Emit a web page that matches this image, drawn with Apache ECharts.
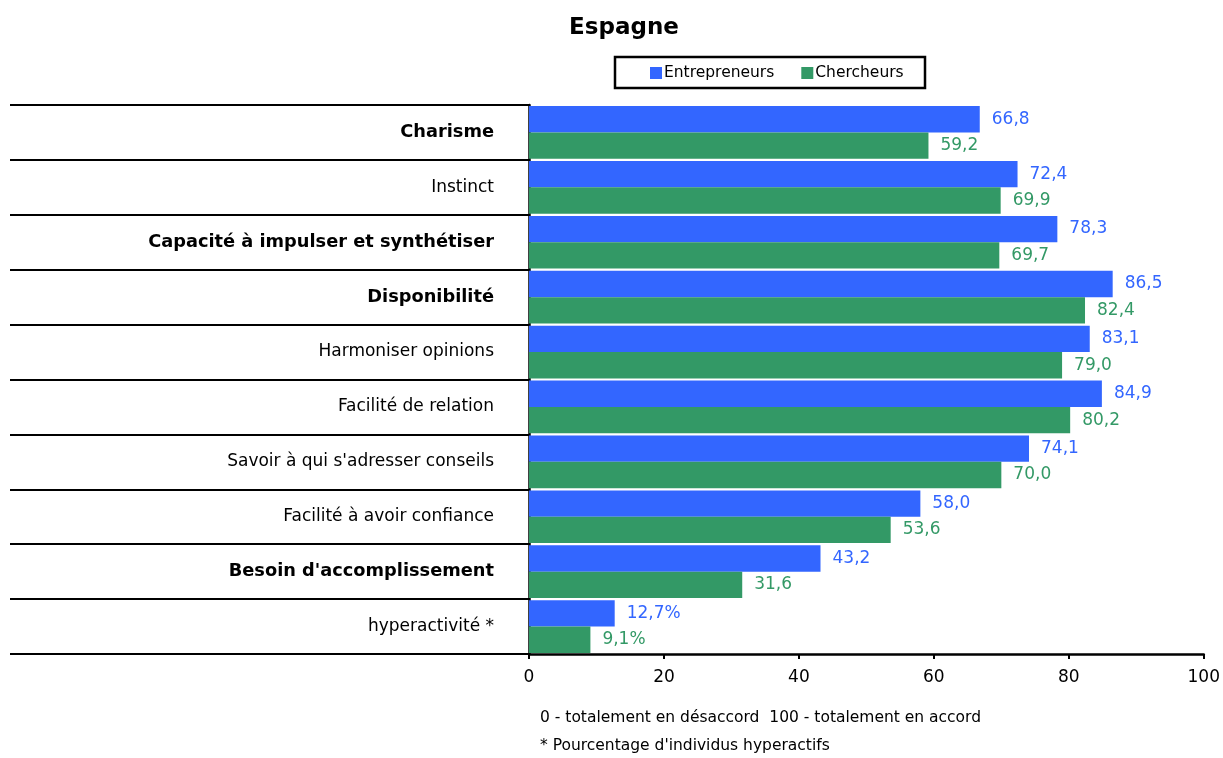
<!DOCTYPE html>
<html><head><meta charset="utf-8">
<script src="https://cdn.jsdelivr.net/npm/echarts@6/dist/echarts.min.js"></script>
<style>html,body{margin:0;padding:0;background:#fff}#c{width:1223px;height:758px}</style>
</head><body><div id="c"></div>
<script>
const categories = ["Charisme","Instinct","Capacité à impulser et synthétiser","Disponibilité","Harmoniser opinions","Facilité de relation","Savoir à qui s'adresser conseils","Facilité à avoir confiance","Besoin d'accomplissement","hyperactivité *"];
const boldCategories = ["Charisme","Capacité à impulser et synthétiser","Disponibilité","Besoin d'accomplissement"];
const percentCategories = ["hyperactivité *"];
const entrepreneurs = [66.8,72.4,78.3,86.5,83.1,84.9,74.1,58.0,43.2,12.7];
const chercheurs = [59.2,69.9,69.7,82.4,79.0,80.2,70.0,53.6,31.6,9.1];
const xTicks = [0,20,40,60,80,100];

const FONT = "DejaVu Sans";
const chart = echarts.init(document.getElementById('c'));
function fmt(p){
  let s = p.value.toFixed(1).replace('.', ',');
  if (percentCategories.includes(categories[p.dataIndex])) s += '%';
  return s;
}
chart.setOption({
  animation:false,
  textStyle:{fontFamily:FONT},
  title:{text:'Espagne',left:619,top:12,textAlign:'center',textStyle:{fontFamily:FONT,fontSize:23,fontWeight:'bold',color:'#000'}},
  legend:{top:60,left:645,itemWidth:12,itemHeight:12,itemGap:27,icon:'rect',
    textStyle:{fontFamily:FONT,fontSize:15.5,color:'#000',padding:[0,0,0,-3]},
    data:['Entrepreneurs','Chercheurs']},
  graphic:[
    {type:'rect',shape:{x:615,y:57,width:310,height:31},style:{fill:null,stroke:'#000',lineWidth:2.5},z:-1},
    {type:'text',left:540,top:710,style:{text:'0 - totalement en désaccord  100 - totalement en accord',font:'15.5px "'+FONT+'"',fill:'#000'}},
    {type:'text',left:540,top:738,style:{text:"* Pourcentage d'individus hyperactifs",font:'15.5px "'+FONT+'"',fill:'#000'}}
  ],
  grid:{left:529,right:18,top:105,bottom:104,containLabel:false},
  xAxis:{type:'value',min:0,max:100,interval:20,
    axisLine:{show:true,lineStyle:{color:'#000',width:2.5}},
    axisTick:{show:true,length:5,lineStyle:{color:'#000',width:2}},
    splitLine:{show:false},
    axisLabel:{fontFamily:FONT,fontSize:17,color:'#000',margin:15,
      formatter:v=>xTicks.includes(v)?String(v):''}},
  yAxis:{type:'category',inverse:true,data:categories,
    axisLine:{show:true,lineStyle:{color:'#000',width:2.5}},
    axisTick:{show:true,length:519,lineStyle:{color:'#000',width:2}},
    axisLabel:{margin:35,fontFamily:FONT,fontSize:17,color:'#000',
      formatter:v=>boldCategories.includes(v)?'{b|'+v+'}':'{n|'+v+'}',
      rich:{b:{fontFamily:FONT,fontSize:17.8,fontWeight:'bold',color:'#000'},n:{fontFamily:FONT,fontSize:17,color:'#000'}}}},
  series:[
    {name:'Entrepreneurs',type:'bar',data:entrepreneurs,barGap:'0%',barCategoryGap:'4%',
      itemStyle:{color:'#3366FF'},
      label:{show:true,position:'right',distance:12,formatter:fmt,fontFamily:FONT,fontSize:17,color:'#3366FF'}},
    {name:'Chercheurs',type:'bar',data:chercheurs,barGap:'0%',barCategoryGap:'4%',
      itemStyle:{color:'#339966'},
      label:{show:true,position:'right',distance:12,formatter:fmt,fontFamily:FONT,fontSize:17,color:'#339966'}}
  ]
});
</script></body></html>
